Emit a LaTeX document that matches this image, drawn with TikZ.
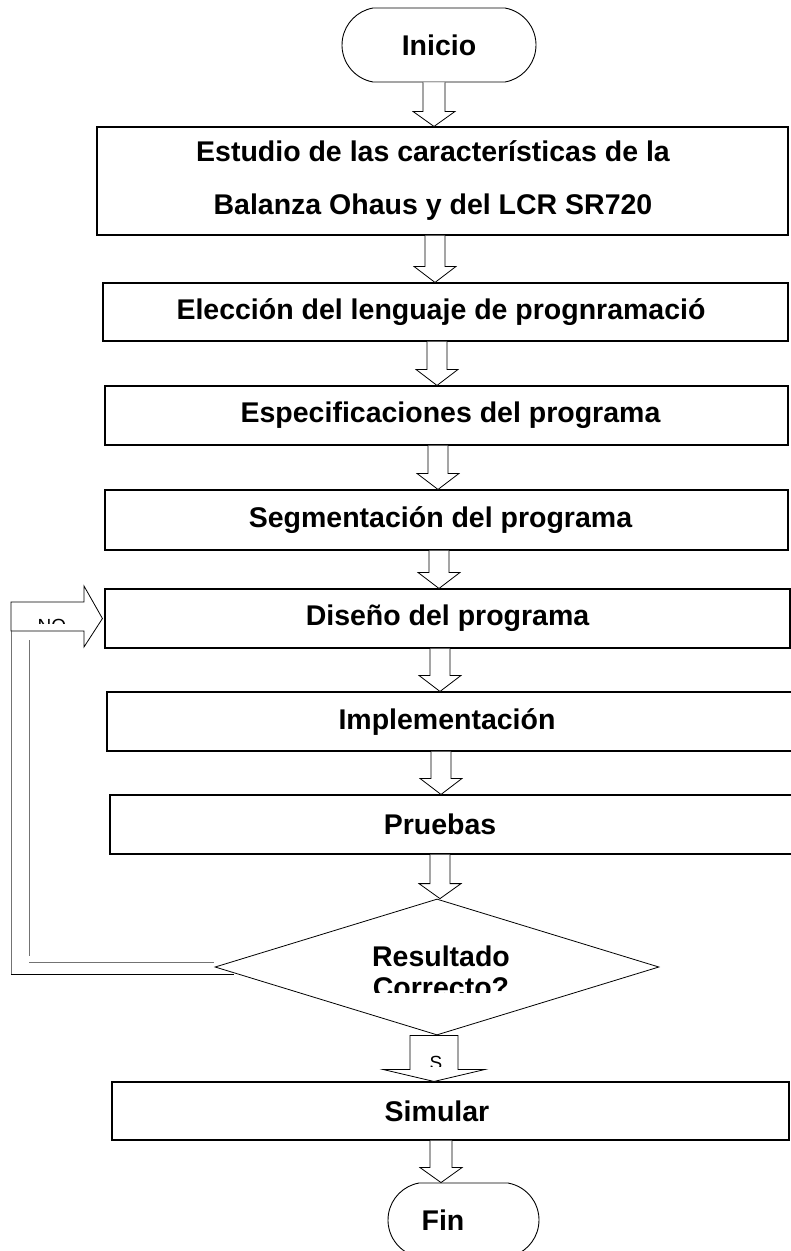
\documentclass[tikz,border=0pt]{standalone}
\usepackage{fontspec}
\setmainfont{Liberation Sans}
\usetikzlibrary{shapes.geometric,shapes.misc,calc}
\newcommand\dnarr[6]{%
  \draw[blk] let \p1=(#1.south), \p2=(#2.north) in
    (#3pt-#4pt,\y1) -- (#3pt-#4pt,\y2+#6pt) -- (#3pt-#5pt,\y2+#6pt) -- (#3pt,\y2)
    -- (#3pt+#5pt,\y2+#6pt) -- (#3pt+#4pt,\y2+#6pt) -- (#3pt+#4pt,\y1);}
\begin{document}
\begin{tikzpicture}[x=1pt,y=-1pt,
  bigfont/.style={font=\bfseries\fontsize{28.5}{34}\selectfont},
  box/.style={draw=black,line width=1.1pt,rectangle,inner sep=0pt,align=center,bigfont},
  term/.style={draw=black,line width=0.9pt,rounded rectangle,rounded rectangle arc length=160,inner sep=0pt,bigfont},
  blk/.style={draw=black,line width=0.8pt,fill=white,line join=miter},
  loopline/.style={draw=black!55,line width=1pt},
  small/.style={font=\fontsize{19}{22}\selectfont,inner sep=0pt,anchor=base},
]
\useasboundingbox (0,0) rectangle (791,1251);

% terminals
\node[term,minimum width=194,minimum height=74] (ini) at (439,45) {Inicio};

% process boxes
\node[box,minimum width=691,minimum height=108,font=\bfseries\fontsize{28.5}{53}\selectfont] (b1) at (442.5,181)
  {Estudio de las características de la\hspace*{19pt}\\Balanza Ohaus y del LCR SR720\hspace*{19pt}};
\node[box,minimum width=685,minimum height=58] (b2) at (445.5,312) {Elección del lenguaje de prognramació\hspace*{9pt}};
\node[box,minimum width=683,minimum height=59] (b3) at (446.5,415.5) {\hspace*{8pt}Especificaciones del programa};
\node[box,minimum width=683,minimum height=60] (b4) at (446.5,520) {Segmentación del programa\hspace*{12pt}};
\node[box,minimum width=685,minimum height=59] (b5) at (447.5,618.5) {Diseño del programa};
\node[box,minimum width=693,minimum height=59] (b6) at (453.5,721.5) {Implementación\hspace*{13pt}};
\node[box,minimum width=690,minimum height=59] (b7) at (455,824.5) {Pruebas\hspace*{30pt}};
\node[diamond,draw=black,line width=0.8pt,minimum width=444,minimum height=136,aspect=3.26,inner sep=0pt] (dec) at (437,967) {};
\node[box,minimum width=677,minimum height=58] (b8) at (450.5,1111) {Simular\hspace*{27pt}};
\node[term,minimum width=151,minimum height=74] (fin) at (463.5,1220) {Fin\hspace*{41pt}};

% decision text (cut off at the bottom as in the reference)
\begin{scope}
  \clip (0,0) rectangle (791,992);
  \node[bigfont,align=center,inner sep=0pt,font=\bfseries\fontsize{28.5}{31}\selectfont] (dect) at (441,972) {Resultado\\Correcto?};
\end{scope}

% block arrows
\dnarr{ini}{b1}{434}{11}{21}{15}
\dnarr{b1}{b2}{435}{10}{21}{16}
\dnarr{b2}{b3}{437}{10}{21}{16}
\dnarr{b3}{b4}{438}{10}{21}{16}
\dnarr{b4}{b5}{439}{10}{21}{16}
\dnarr{b5}{b6}{440}{10}{21}{16}
\dnarr{b6}{b7}{441}{10}{21}{16}
\dnarr{b7}{dec}{440}{10}{21}{15}
\draw[blk] let \p1=(dec.south), \p2=(b8.north) in
  (410,\y1) -- (410,\y2+12pt) -- (383,\y2+12pt) -- (434,\y2) -- (485,\y2+12pt)
  -- (458,\y2+12pt) -- (458,\y1) -- cycle;
\dnarr{b8}{fin}{441}{11}{21}{15}

% S label
\begin{scope}
  \clip (0,0) rectangle (791,1066);
  \node[small] (slab) at (436,1069) {S};
\end{scope}

% loop back (NO)
\coordinate (innerend) at (214,962);
\coordinate (outerend) at (234,974);
\draw[loopline] (11,631) -- (11,974);
\draw[draw=black,line width=1pt] (11,974) -- (outerend);
\draw[loopline] (29,640) -- (29,956);
\draw[loopline] (29,962) -- (innerend);
\draw[blk] let \p1=(b5.west) in
  (11,602) -- (84,602) -- (84,586) -- (\x1-2pt,\y1) -- (84,647) -- (84,631) -- (11,631) -- cycle;
\begin{scope}
  \clip (0,0) rectangle (791,623);
  \node[small] (nolab) at (52,632) {NO};
\end{scope}
\end{tikzpicture}
\end{document}
